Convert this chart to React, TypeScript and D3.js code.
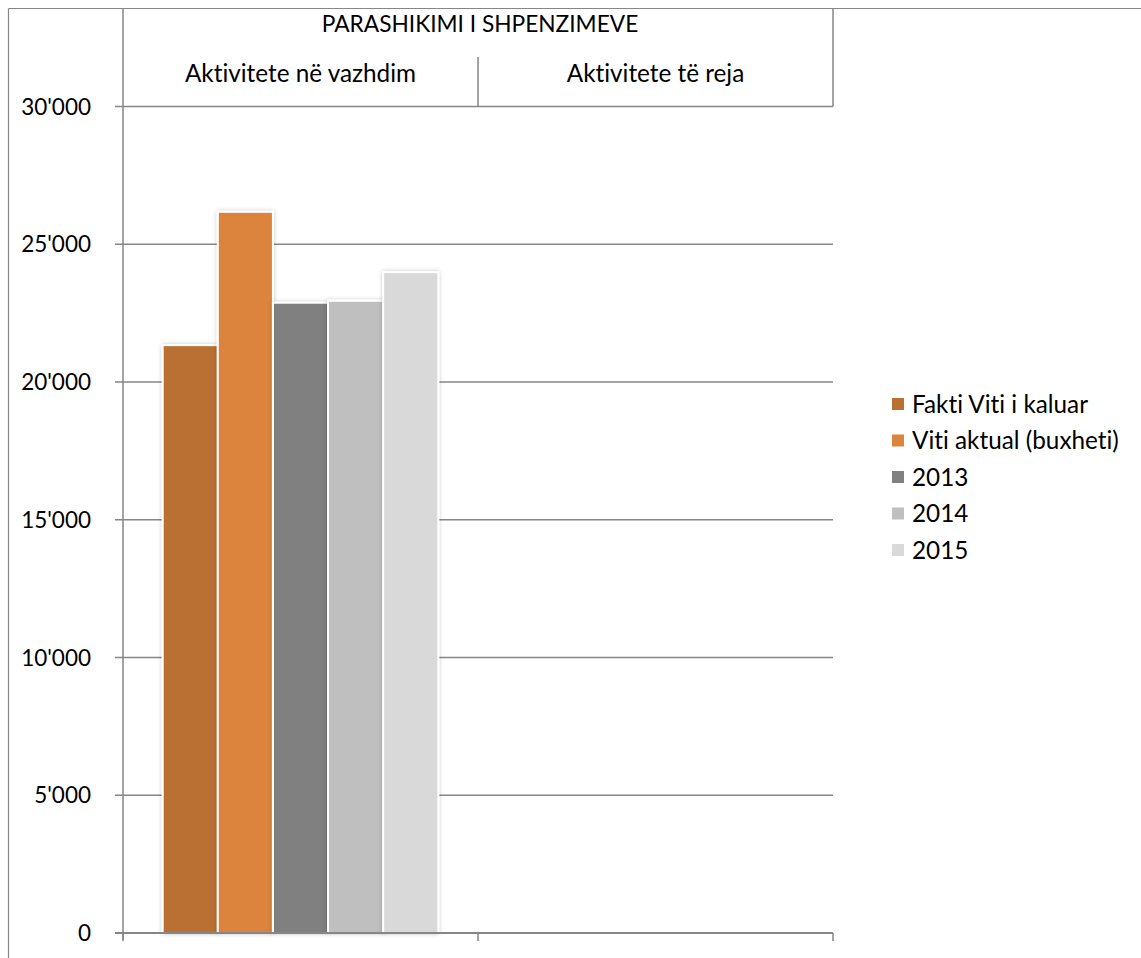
import React from "react";
import * as d3 from "d3";

const groups = ["Aktivitete në vazhdim", "Aktivitete të reja"];
const seriesNames = ["Fakti Viti i kaluar", "Viti aktual (buxheti)", "2013", "2014", "2015"];
const seriesColors = ["#BA7032", "#DC843E", "#808080", "#BFBFBF", "#D9D9D9"];
const valuesOngoing = [21340, 26180, 22880, 22950, 23990];
const valuesNew = [0, 0, 0, 0, 0];
const yTicks = [0, 5000, 10000, 15000, 20000, 25000, 30000];
const headerTitle = "PARASHIKIMI I SHPENZIMEVE";

const W = 1141;
const H = 958;
const FONT = "Lato, 'Open Sans', sans-serif";
const AXIS = "#868686";

export default function App() {
  const left = 123;
  const right = 833;
  const y = d3.scaleLinear().domain([0, 30000]).range([933, 106.6]);
  const x0 = d3.scaleBand().domain(groups).range([left, right]).paddingInner(0).paddingOuter(0);
  const x1 = d3
    .scaleBand()
    .domain(seriesNames)
    .range([0, x0.bandwidth()])
    .paddingOuter(0.72)
    .paddingInner(0.0);
  const data = [valuesOngoing, valuesNew];
  const fmt = (v: number) => d3.format(",")(v).replace(/,/g, "'");

  return (
    <svg
      width={W}
      height={H}
      style={{
        position: "absolute",
        left: 0,
        top: 0,
        background: "#fff",
        fontVariantLigatures: "none",
      }}
      fontFamily={FONT}
    >
      <defs>
        <filter id="sh" x="-20%" y="-5%" width="140%" height="110%">
          <feDropShadow dx="0" dy="0" stdDeviation="2.2" floodColor="#000" floodOpacity="0.22" />
        </filter>
      </defs>
      <line x1={8.5} y1={8.5} x2={W} y2={8.5} stroke={AXIS} strokeWidth={1.2} />
      <line x1={8.5} y1={8.5} x2={8.5} y2={H} stroke={AXIS} strokeWidth={1.2} />

      {yTicks.map((t) => (
        <g key={t}>
          <line x1={left - 8} x2={right} y1={y(t)} y2={y(t)} stroke={AXIS} strokeWidth={1.5} />
          <text x={91} y={y(t)} dy="0.36em" textAnchor="end" fontSize={22.5} fill="#000">
            {fmt(t)}
          </text>
        </g>
      ))}

      <line x1={left} x2={left} y1={8} y2={940} stroke={AXIS} strokeWidth={1.5} />
      <line x1={right} x2={right} y1={8} y2={y(30000)} stroke={AXIS} strokeWidth={1.5} />
      <line
        x1={x0(groups[1])!}
        x2={x0(groups[1])!}
        y1={57}
        y2={y(30000)}
        stroke={AXIS}
        strokeWidth={1.5}
      />
      <text x={480} y={32} textAnchor="middle" fontSize={22.7} fill="#000">
        {headerTitle}
      </text>
      {groups.map((g) => (
        <text
          key={g}
          x={x0(g)! + x0.bandwidth() / 2}
          y={82}
          textAnchor="middle"
          fontSize={24.3}
          fill="#000"
        >
          {g}
        </text>
      ))}

      {groups.map((g, gi) => (
        <g key={g} transform={`translate(${x0(g)},0)`}>
          {seriesNames.map((s, si) => {
            const v = data[gi][si];
            if (!v) return null;
            return (
              <rect
                key={s}
                x={x1(s)!}
                y={y(v)}
                width={x1.bandwidth()}
                height={y(0) - y(v)}
                fill={seriesColors[si]}
                stroke="#fff"
                strokeWidth={2}
                filter="url(#sh)"
              />
            );
          })}
        </g>
      ))}

      <line x1={left - 8} x2={right} y1={y(0)} y2={y(0)} stroke={AXIS} strokeWidth={2} />
      {[left, x0(groups[1])!, right].map((tx, i) => (
        <line key={i} x1={tx} x2={tx} y1={y(0)} y2={941} stroke={AXIS} strokeWidth={1.5} />
      ))}

      {seriesNames.map((s, i) => {
        const ly = 404 + i * 36.5;
        return (
          <g key={s}>
            <rect x={892} y={ly - 6} width={12} height={12} fill={seriesColors[i]} />
            <text x={912} y={ly} dy="0.36em" fontSize={24.3} fill="#000">
              {s}
            </text>
          </g>
        );
      })}
    </svg>
  );
}
